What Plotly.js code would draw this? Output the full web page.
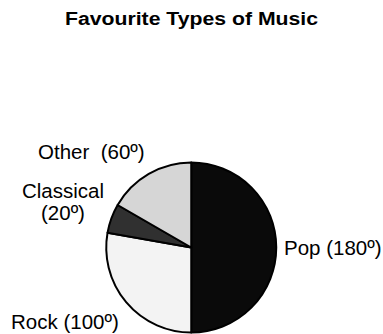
<!DOCTYPE html>
<html>
<head>
<meta charset="utf-8">
<script src="https://cdn.plot.ly/plotly-3.0.1.min.js"></script>
<style>html,body{margin:0;padding:0;background:#fff;}#chart{width:383px;height:334px;}</style>
</head>
<body>
<div id="chart"></div>
<script>
var categories = ['Pop', 'Rock', 'Classical', 'Other'];
var degrees = [180, 100, 20, 60];
var sliceColors = ['#0a0a0a', '#f3f3f3', '#303030', '#d6d6d6'];

var W = 383, H = 334;
var labelFont = {family: 'Liberation Sans, Arial, sans-serif', size: 20.5, color: '#000'};

function deg(i) { return '(' + degrees[i] + 'º)'; }

var trace = {
  type: 'pie',
  labels: categories,
  values: degrees,
  sort: false,
  direction: 'clockwise',
  rotation: 0,
  textinfo: 'none',
  marker: {colors: sliceColors, line: {color: '#000', width: 2}},
  domain: {x: [0.2768, 0.7219], y: [0.0045, 0.5135]},
  hoverinfo: 'none',
  showlegend: false
};

function ann(text, px, py, xanchor) {
  return {
    text: text, xref: 'paper', yref: 'paper',
    x: px / W, y: 1 - py / H, xanchor: xanchor, yanchor: 'middle',
    showarrow: false, font: labelFont, borderpad: 0, borderwidth: 0
  };
}

var annotations = [
  ann(categories[0] + ' ' + deg(0), 284, 247, 'left'),
  ann(categories[1] + ' ' + deg(1), 119, 321, 'right'),
  ann(categories[2], 63, 190, 'center'),
  ann(deg(2), 63, 212, 'center'),
  ann(categories[3] + '\u00a0 ' + deg(3), 145, 151, 'right')
];

var layout = {
  width: W,
  height: H,
  margin: {l: 0, r: 0, t: 0, b: 0},
  paper_bgcolor: '#fff',
  plot_bgcolor: '#fff',
  showlegend: false,
  annotations: annotations,
  title: {
    text: '<b>Favourite Types of Music</b>',
    font: {family: 'Liberation Sans, Arial, sans-serif', size: 18, color: '#000'},
    x: 0.5, xanchor: 'center', xref: 'paper',
    y: 1 - 19 / H, yanchor: 'middle', yref: 'container'
  }
};

Plotly.newPlot('chart', [trace], layout, {staticPlot: true, displayModeBar: false}).then(function (gd) {
  var t = gd.querySelector('.gtitle');
  if (t) {
    t.setAttribute('textLength', '253');
    t.setAttribute('lengthAdjust', 'spacingAndGlyphs');
  }
});
</script>
</body>
</html>
